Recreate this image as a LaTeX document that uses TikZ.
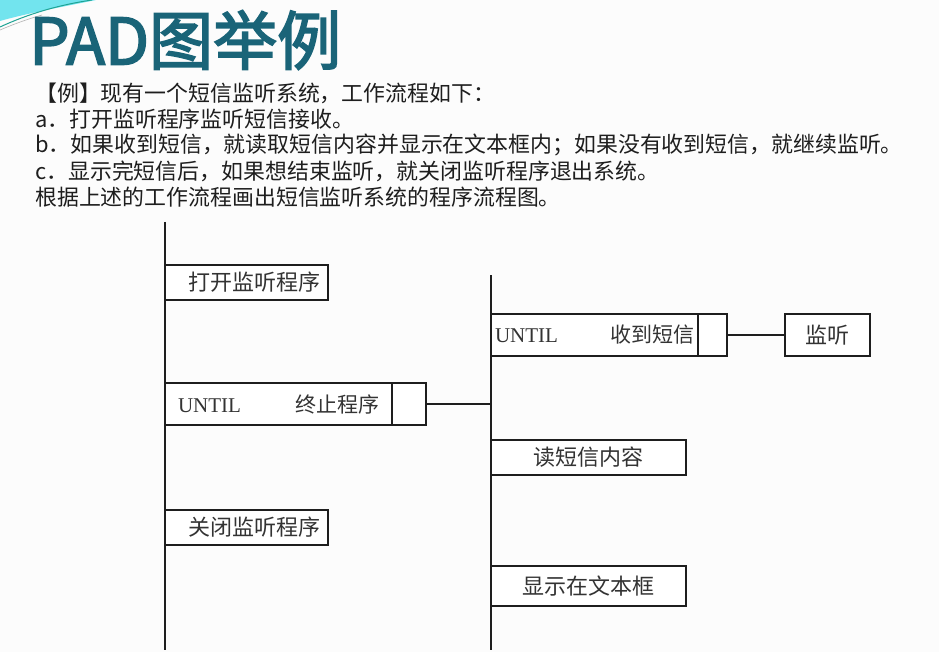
\documentclass[tikz,border=0pt]{standalone}
\usepackage{fontspec}
\setmainfont{Liberation Serif}
\newfontfamily\cjk{Noto Sans CJK SC}
\newfontfamily\titlefont{Noto Sans CJK SC}[FakeBold=2.6]
\usetikzlibrary{positioning}
\definecolor{padTitle}{HTML}{1A6478}
\definecolor{padInk}{HTML}{1E1E1E}
\definecolor{padText}{HTML}{333333}
\definecolor{padCyan}{HTML}{72E4EE}
\definecolor{padSwoosh}{HTML}{1FA394}
\definecolor{padPaper}{HTML}{FCFCFC}
\tikzset{
  pad diagram/.style={x=1pt, y=-1pt, line cap=butt, line join=miter},
  pad para/.style={font=\cjk\fontsize{21.9}{24}\selectfont, text=padInk,
    anchor=west, inner sep=0pt},
  pad box/.style={draw=padInk, line width=1.5pt, fill=white, outer sep=0pt,
    inner sep=0pt, anchor=north west, text=padText,
    font=\cjk\fontsize{22}{24}\selectfont},
  pad step/.style={pad box, minimum width=#1, text width=#1-16pt,
    inner xsep=8pt, align=right},
  pad act/.style={pad box, minimum width=#1, align=center},
  pad cap/.style={pad box, minimum width=#1, minimum height=42pt},
  pad stem/.style={draw=padInk, line width=2pt},
  pad link/.style={draw=padInk, line width=1.5pt}
}
\newcommand{\untiltext}[2]{\hbox to #1{\rmfamily\fontsize{21}{24}\selectfont UNTIL\hfill\cjk #2}}

\begin{document}
\begin{tikzpicture}[pad diagram]
\fill[padPaper] (0,0) rectangle (939,652);
\useasboundingbox (0,0) rectangle (939,652);
% corner swoosh
\fill[padCyan] (0,0) -- (96,0) .. controls (62,7) and (28,13) .. (0,21) -- cycle;
\draw[padSwoosh, line width=1pt] (0,27) .. controls (28,14) and (58,5) .. (92,0);
\draw[gray!60, line width=0.6pt] (0,30) .. controls (14,24) and (28,19) .. (42,15);
% title and task
\node[anchor=west, inner sep=0pt, text=padTitle,
  font=\titlefont\fontsize{64}{66}\selectfont] (title) at (29,40) {PAD图举例};
\node[pad para] (task) at (35,93) {【例】现有一个短信监听系统，工作流程如下：};
\node[pad para] (itemA) at (35,119) {a．打开监听程序监听短信接收。};
\node[pad para] (itemB) at (35,145) {b．如果收到短信，就读取短信内容并显示在文本框内；如果没有收到短信，就继续监听。};
\node[pad para] (itemC) at (35,171) {c．显示完短信后，如果想结束监听，就关闭监听程序退出系统。};
\node[pad para] (ask) at (35,197) {根据上述的工作流程画出短信监听系统的程序流程图。};

% outer sequence
\coordinate (leftTop) at (165,222);
\coordinate (leftEnd) at (165,650);
\draw[pad stem] (leftTop) -- (leftEnd);
\node[pad step=163pt, minimum height=35pt] (open) at (165,265) {打开监听程序};
\node[pad box, minimum width=227pt, minimum height=42pt, inner xsep=13pt]
  (untilA) at (165,383) {\untiltext{201pt}{终止程序}};
\node[pad cap=34pt, right=0pt of untilA] (capA) {};
\node[pad step=163pt, minimum height=35pt] (close) at (165,510) {关闭监听程序};

% inner sequence
\coordinate (rightTop) at (491,275);
\coordinate (rightEnd) at (491,650);
\draw[pad stem] (rightTop) -- (rightEnd);
\draw[pad link] (capA.east) -- (capA.east -| rightTop);
\node[pad box, minimum width=207pt, minimum height=42pt, inner xsep=4pt]
  (untilB) at (491,314) {\untiltext{199pt}{收到短信}};
\node[pad cap=29pt, right=0pt of untilB] (capB) {};
\node[pad act=85pt, minimum height=42pt, right=58pt of capB] (listen) {监听};
\draw[pad link] (capB) -- (listen);
\node[pad act=195pt, minimum height=35pt] (read) at (491,440) {读短信内容};
\node[pad act=195pt, minimum height=40pt] (show) at (491,566) {显示在文本框};
\end{tikzpicture}
\end{document}
